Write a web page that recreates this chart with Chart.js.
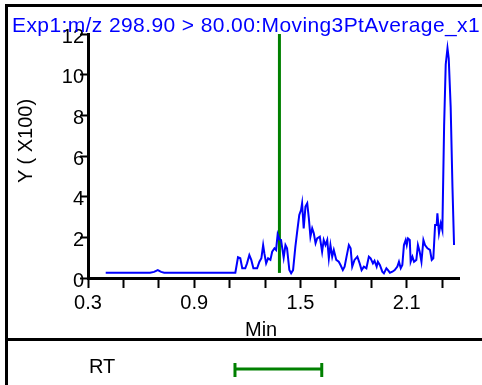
<!DOCTYPE html>
<html>
<head>
<meta charset="utf-8">
<script src="https://cdn.jsdelivr.net/npm/chart.js@4"></script>
<style>
  html, body { margin: 0; padding: 0; background: #fff; }
  body { width: 482px; height: 385px; position: relative; overflow: hidden; font-family: "Liberation Sans", Arial, sans-serif; }
  #chart { position: absolute; left: 0; top: 0; }
  .rule { position: absolute; background: #000; }
  .txt { position: absolute; white-space: nowrap; color: #000; line-height: 1; }
</style>
</head>
<body>
<canvas id="chart" width="482" height="385"></canvas>
<div class="rule" style="left:5px;top:4px;width:477px;height:3px"></div>
<div class="rule" style="left:5px;top:4px;width:3px;height:381px"></div>
<div class="rule" style="left:5px;top:338px;width:477px;height:3px"></div>
<div id="title" class="txt" style="left:12px;top:14px;font-size:21px;letter-spacing:0.4px;color:#0000ff">Exp1:m/z 298.90 &gt; 80.00:Moving3PtAverage_x1</div>
<div class="txt" style="left:25px;top:141px;font-size:20px;transform:translate(-50%,-50%) rotate(-90deg)">Y ( X100)</div>
<div class="txt" style="left:245px;top:319px;font-size:20px">Min</div>
<div class="txt" style="left:89px;top:356px;font-size:20px">RT</div>
<script>
// retention time (min) and intensity (x100)
const times = [
  0.40, 0.65, 0.673, 0.694, 0.713, 0.730, 1.132, 1.147, 1.160, 1.171,
  1.188, 1.198, 1.211, 1.222, 1.234, 1.255, 1.268, 1.279, 1.289, 1.296,
  1.306, 1.317, 1.330, 1.340, 1.353, 1.362, 1.371, 1.381, 1.390, 1.405,
  1.415, 1.424, 1.437, 1.447, 1.458, 1.471, 1.480, 1.493, 1.503, 1.509,
  1.518, 1.528, 1.538, 1.547, 1.556, 1.566, 1.575, 1.585, 1.594, 1.609,
  1.622, 1.631, 1.641, 1.651, 1.660, 1.669, 1.679, 1.688, 1.702, 1.716,
  1.726, 1.739, 1.749, 1.760, 1.773, 1.783, 1.792, 1.805, 1.821, 1.834,
  1.845, 1.858, 1.872, 1.886, 1.896, 1.909, 1.918, 1.930, 1.937, 1.948,
  1.962, 1.971, 1.985, 1.994, 2.005, 2.019, 2.032, 2.047, 2.056, 2.066,
  2.075, 2.084, 2.094, 2.100, 2.107, 2.117, 2.122, 2.132, 2.141, 2.154,
  2.163, 2.173, 2.183, 2.194, 2.203, 2.217, 2.231, 2.241, 2.250, 2.260,
  2.269, 2.273, 2.282, 2.292, 2.301, 2.311, 2.320, 2.330, 2.337, 2.348,
  2.358, 2.367
];
const counts = [
  0.26, 0.26, 0.30, 0.39, 0.30, 0.26, 0.26, 1.02, 0.97, 0.48,
  0.48, 0.72, 1.13, 0.89, 0.48, 0.48, 0.80, 0.97, 1.62, 1.21,
  0.72, 0.97, 0.89, 1.29, 1.46, 1.38, 2.15, 1.90, 1.87, 1.00,
  1.62, 1.46, 0.39, 0.23, 0.39, 1.54, 2.20, 3.10, 3.34, 3.67,
  2.44, 3.51, 3.67, 2.94, 2.03, 2.44, 2.20, 1.71, 1.95, 2.03,
  1.29, 1.87, 1.62, 1.87, 0.97, 1.62, 1.05, 1.38, 0.89, 0.80,
  0.64, 0.39, 0.56, 1.05, 1.62, 1.46, 0.56, 0.89, 1.05, 0.72,
  0.39, 0.56, 0.48, 1.05, 0.97, 0.72, 0.85, 0.56, 0.80, 0.64,
  0.31, 0.23, 0.48, 0.39, 0.26, 0.31, 0.39, 0.56, 0.80, 0.48,
  0.64, 1.62, 1.87, 1.62, 1.95, 1.87, 0.80, 1.05, 0.80, 0.89,
  1.62, 1.29, 0.80, 1.87, 1.62, 1.46, 1.38, 0.89, 0.97, 2.61,
  2.61, 3.18, 2.20, 2.69, 2.36, 7.50, 10.50, 11.30, 10.80, 8.40,
  4.50, 1.62
];

// RT marker and RT window
const markerTime = 1.381;
const markerSpan = [0.25, 12];
const rtWindow = [1.13, 1.62];

// axes
const xTickValues = [0.3, 0.5, 0.7, 0.9, 1.1, 1.3, 1.5, 1.7, 1.9, 2.1, 2.3];
const xTickLabels = ['0.3', '0.9', '1.5', '2.1'];
const yTickValues = [0, 2, 4, 6, 8, 10, 12];

const FONT = { family: '"Liberation Sans", Arial, sans-serif', size: 20 };

const rtBar = {
  id: 'rtBar',
  afterDraw(chart) {
    const xs = chart.scales.x;
    const ctx = chart.ctx;
    const x0 = xs.getPixelForValue(rtWindow[0]);
    const x1 = xs.getPixelForValue(rtWindow[1]);
    ctx.save();
    ctx.strokeStyle = '#008000';
    ctx.lineWidth = 3;
    ctx.beginPath();
    ctx.moveTo(x0, 369); ctx.lineTo(x1, 369);
    ctx.moveTo(x0, 363); ctx.lineTo(x0, 377);
    ctx.moveTo(x1, 363); ctx.lineTo(x1, 377);
    ctx.stroke();
    ctx.restore();
  }
};

new Chart(document.getElementById('chart'), {
  type: 'line',
  data: {
    datasets: [
      {
        data: times.map((t, i) => ({ x: t, y: counts[i] })),
        borderColor: '#0000ff',
        borderWidth: 2,
        pointRadius: 0,
        tension: 0
      },
      {
        data: markerSpan.map(y => ({ x: markerTime, y })),
        borderColor: '#008000',
        borderWidth: 3,
        pointRadius: 0
      }
    ]
  },
  options: {
    responsive: false,
    animation: false,
    events: [],
    layout: { padding: { left: 0, top: 34, right: 23, bottom: 0 } },
    plugins: { legend: { display: false }, tooltip: { enabled: false } },
    scales: {
      x: {
        type: 'linear',
        min: 0.3,
        max: 2.395,
        afterBuildTicks: s => { s.ticks = xTickValues.map(v => ({ value: v })); },
        afterFit: s => { s.height = 107; },
        ticks: {
          autoSkip: false,
          maxRotation: 0,
          color: '#000',
          font: FONT,
          padding: 3,
          callback: v => {
            const l = Number(v).toFixed(1);
            return xTickLabels.includes(l) ? l : '';
          }
        },
        grid: { drawOnChartArea: false, drawTicks: true, tickLength: 10, tickWidth: 2, tickColor: '#000' },
        border: { display: true, color: '#000', width: 3 }
      },
      y: {
        min: 0,
        max: 12,
        afterBuildTicks: s => { s.ticks = yTickValues.map(v => ({ value: v })); },
        afterFit: s => { s.width = 88; },
        ticks: { color: '#000', font: FONT, padding: -4, labelOffset: 3 },
        grid: { drawOnChartArea: false, drawTicks: true, tickLength: 8, tickWidth: 2, tickColor: '#000' },
        border: { display: true, color: '#000', width: 3 }
      }
    }
  },
  plugins: [rtBar]
});
</script>
</body>
</html>
